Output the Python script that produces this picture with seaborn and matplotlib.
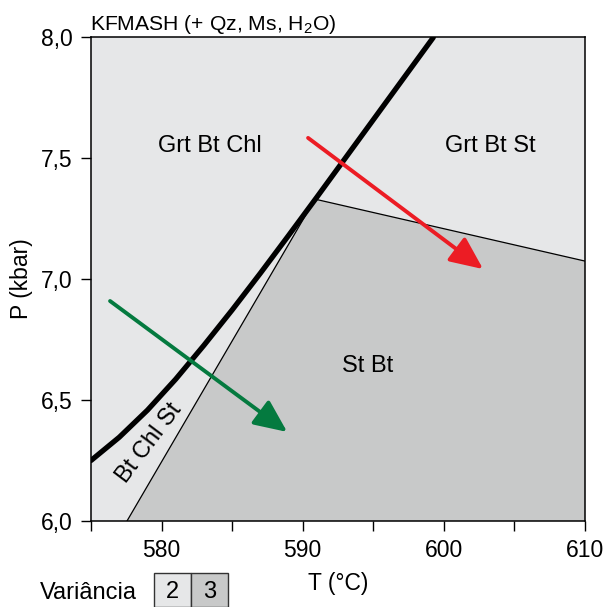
import numpy as np
import pandas as pd
import seaborn as sns
import matplotlib.pyplot as plt
from matplotlib.patches import Rectangle

sns.set_theme(style='ticks')
plt.rcParams['font.family'] = ['Liberation Sans', 'DejaVu Sans']
plt.rcParams['mathtext.fontset'] = 'custom'
plt.rcParams['mathtext.rm'] = 'Liberation Sans'
for k in ['text.color', 'axes.labelcolor', 'xtick.color', 'ytick.color']:
    plt.rcParams[k] = 'black'

# thick reaction curve
curve_T = [575.0, 577.0, 579.0, 581.0, 583.0, 585.0, 587.0, 589.0, 591.0, 593.0,
           595.0, 597.0, 599.25]
curve_P = [6.25, 6.346, 6.458, 6.586, 6.726, 6.872, 7.024, 7.18, 7.338, 7.498,
           7.658, 7.818, 7.998]

# thin field boundaries
left_T = [577.55, 590.87]
left_P = [6.0, 7.33]
right_T = [590.87, 610.0]
right_P = [7.33, 7.074]

# St Bt field (variance 3)
field_T = [577.55, 590.87, 610.0, 610.0]
field_P = [6.0, 7.33, 7.074, 6.0]

# P-T paths
green_path = [(576.35, 6.909), (588.9, 6.368)]
red_path = [(590.38, 7.583), (602.78, 7.041)]

labels = ['Grt Bt Chl', 'Grt Bt St', 'St Bt', 'Bt Chl St']
label_T = [583.4, 603.3, 594.6, 579.1]
label_P = [7.55, 7.55, 6.64, 6.32]
label_rot = [0, 0, 0, 53]

light = '#e6e7e8'
dark = '#c8c9c9'

fig = plt.figure(figsize=(6.04, 6.07), dpi=100)
ax = fig.add_axes([91 / 604, 1 - 521 / 607, 494 / 604, 484 / 607])
ax.set_facecolor(light)

ax.fill(field_T, field_P, color=dark, lw=0, zorder=1)

thin = pd.DataFrame({'T': left_T + right_T, 'P': left_P + right_P,
                     'seg': ['a', 'a', 'b', 'b']})
sns.lineplot(data=thin, x='T', y='P', units='seg', estimator=None, sort=False,
             color='black', lw=0.9, ax=ax, zorder=2)
sns.lineplot(x=curve_T, y=curve_P, sort=False, color='black', lw=3.8, ax=ax, zorder=3)

for (p0, p1), c in [(green_path, '#047a3f'), (red_path, '#ec1c24')]:
    ax.annotate('', xy=p1, xytext=p0, zorder=4,
                arrowprops=dict(arrowstyle='-|>,head_length=1.0,head_width=0.45',
                                color=c, lw=2.8, mutation_scale=20,
                                shrinkA=0, shrinkB=0))

for lab, t, p, r in zip(labels, label_T, label_P, label_rot):
    ax.text(t, p, lab, fontsize=17, ha='center', va='center', rotation=r, zorder=5)

ax.set_xlim(575, 610)
ax.set_ylim(6.0, 8.0)
ax.set_xticks([580, 590, 600, 610])
ax.set_xticks([575, 585, 595, 605], minor=True)
ax.set_yticks([6.0, 6.5, 7.0, 7.5, 8.0])
ax.set_yticklabels(['6,0', '6,5', '7,0', '7,5', '8,0'])
ax.tick_params(axis='both', which='both', direction='out', length=7, width=1,
               color='black', labelsize=16.5, pad=6)
for s in ax.spines.values():
    s.set_linewidth(1.1)
    s.set_color('black')
ax.grid(False)

ax.set_xlabel('T (°C)', fontsize=16.5, labelpad=7)
ax.set_ylabel('P (kbar)', fontsize=16.5, labelpad=6)
ax.set_title('KFMASH (+ Qz, Ms, H$_2$O)', loc='left', fontsize=15.2, pad=5, x=-0.002)

# variance legend
fig.text(40 / 604, 1 - 593 / 607, 'Variância', fontsize=17, va='center', ha='left')
for i, (c, lab) in enumerate([(light, '2'), (dark, '3')]):
    x0 = (154 + 37 * i) / 604
    fig.patches.append(Rectangle((x0, 0), 37 / 604, 1 - 573 / 607, transform=fig.transFigure,
                                 facecolor=c, edgecolor='#333333', lw=1.0))
    fig.text(x0 + 18.5 / 604, 1 - 592 / 607, lab, fontsize=17, ha='center', va='center')

fig.savefig('out.png', dpi=100)
